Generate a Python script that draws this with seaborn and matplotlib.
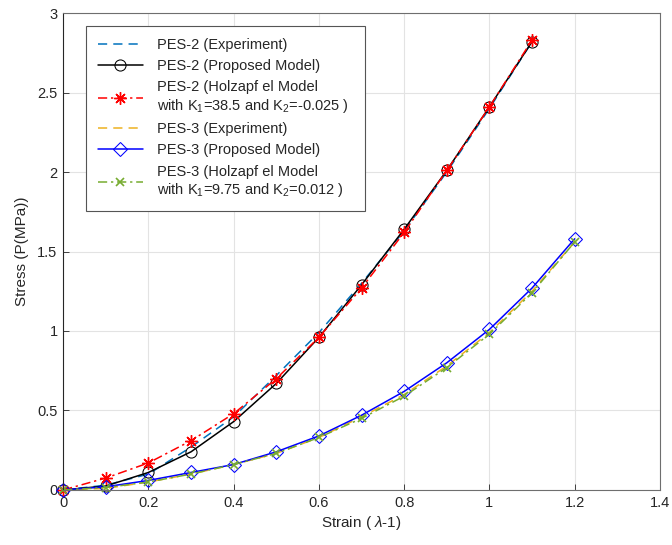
import numpy as np
import pandas as pd
import seaborn as sns
import matplotlib
matplotlib.use("Agg")
import matplotlib.pyplot as plt

# Strain levels
strain_pes2 = [0.0, 0.1, 0.2, 0.3, 0.4, 0.5, 0.6, 0.7, 0.8, 0.9, 1.0, 1.1]
strain_pes3 = [0.0, 0.1, 0.2, 0.3, 0.4, 0.5, 0.6, 0.7, 0.8, 0.9, 1.0, 1.1, 1.2]

# PES-2 stress (MPa)
pes2_experiment = [0.0, 0.03, 0.10, 0.27, 0.46, 0.72, 0.99, 1.30, 1.63, 2.00, 2.40, 2.82]
pes2_proposed = [0.0, 0.025, 0.11, 0.24, 0.43, 0.67, 0.96, 1.29, 1.64, 2.01, 2.41, 2.82]
pes2_holzapfel = [0.0, 0.075, 0.17, 0.31, 0.48, 0.70, 0.96, 1.27, 1.62, 2.01, 2.41, 2.83]

# PES-3 stress (MPa)
pes3_experiment = [0.0, 0.01, 0.05, 0.10, 0.16, 0.23, 0.33, 0.46, 0.60, 0.78, 0.99, 1.25, 1.56]
pes3_proposed = [0.0, 0.02, 0.06, 0.11, 0.16, 0.24, 0.34, 0.47, 0.62, 0.80, 1.01, 1.27, 1.58]
pes3_holzapfel = [0.0, 0.015, 0.05, 0.10, 0.16, 0.23, 0.33, 0.45, 0.59, 0.77, 0.98, 1.24, 1.56]

labels = [
    "PES-2 (Experiment)",
    "PES-2 (Proposed Model)",
    "PES-2 (Holzapf el Model\nwith K$_1$=38.5 and K$_2$=-0.025 )\u00a0\u00a0",
    "PES-3 (Experiment)",
    "PES-3 (Proposed Model)",
    "PES-3 (Holzapf el Model\nwith K$_1$=9.75 and K$_2$=0.012 )",
]

sns.set_theme(style="whitegrid")
plt.rcParams["font.family"] = ["Liberation Sans", "DejaVu Sans"]
plt.rcParams["mathtext.fontset"] = "custom"
plt.rcParams["mathtext.rm"] = "Liberation Sans"
plt.rcParams["mathtext.it"] = "Liberation Sans:italic"
plt.rcParams["mathtext.sf"] = "Liberation Sans"

fig = plt.figure(figsize=(6.72, 5.45), dpi=100)
ax = fig.add_axes([0.094, 0.101, 0.888, 0.875])

series = [
    (strain_pes2, pes2_experiment, dict(color="#0072BD", linestyle=(0, (6, 4)), marker=None)),
    (strain_pes2, pes2_proposed, dict(color="black", linestyle="-", marker="o",
                                      markerfacecolor="none", markeredgecolor="black", markersize=8)),
    (strain_pes2, pes2_holzapfel, dict(color="red", linestyle=(0, (6, 2.5, 1.5, 2.5)), marker=(8, 2, 0),
                                       markeredgecolor="red", markersize=9, markeredgewidth=1.0)),
    (strain_pes3, pes3_experiment, dict(color="#EDB120", linestyle=(0, (6, 4)), marker=None)),
    (strain_pes3, pes3_proposed, dict(color="blue", linestyle="-", marker="D",
                                      markerfacecolor="none", markeredgecolor="blue", markersize=7)),
    (strain_pes3, pes3_holzapfel, dict(color="#77AC30", linestyle=(0, (6, 2.5, 1.5, 2.5)), marker="x",
                                       markeredgecolor="#77AC30", markersize=6, markeredgewidth=1.2)),
]

for (x, y, style), lab in zip(series, labels):
    df = pd.DataFrame({"Strain": x, "Stress": y})
    marker = style.pop("marker")
    ls = style.pop("linestyle")
    sns.lineplot(data=df, x="Strain", y="Stress", ax=ax, label=lab, linewidth=1.1,
                 marker=marker if marker is not None else "", **style)
    ax.lines[-1].set_linestyle(ls)
    ax.lines[-1].set_clip_on(False)

ax.set_xlim(0, 1.4)
ax.set_ylim(0, 3)
ax.set_xticks(np.arange(0, 1.41, 0.2))
ax.set_xticklabels(["0", "0.2", "0.4", "0.6", "0.8", "1", "1.2", "1.4"])
ax.set_yticks(np.arange(0, 3.01, 0.5))
ax.set_yticklabels(["0", "0.5", "1", "1.5", "2", "2.5", "3"])
ax.set_xlabel("Strain ( $\\lambda$-1)", fontsize=11, color="#262626", labelpad=3)
ax.set_ylabel("Stress (P(MPa))", fontsize=11, color="#262626", labelpad=6)

ax.set_facecolor("white")
ax.grid(True, color="#e3e3e3", linewidth=0.8)
for name, sp in ax.spines.items():
    sp.set_visible(True)
    sp.set_linewidth(0.8)
    sp.set_color("#262626" if name == "left" else "#6e6e6e")
ax.tick_params(axis="both", direction="in", length=4, width=0.6, colors="#262626",
               labelsize=10.5, pad=4, top=False, right=False, bottom=True, left=True)

leg = ax.legend(loc="upper left", bbox_to_anchor=(0.0385, 0.973), borderaxespad=0,
                fontsize=10.5, frameon=True, fancybox=False, edgecolor="#555555", framealpha=1,
                handlelength=3.1, handletextpad=0.95, labelspacing=0.5, borderpad=0.8)
leg.get_frame().set_linewidth(0.8)

fig.savefig("out.png", dpi=100)
